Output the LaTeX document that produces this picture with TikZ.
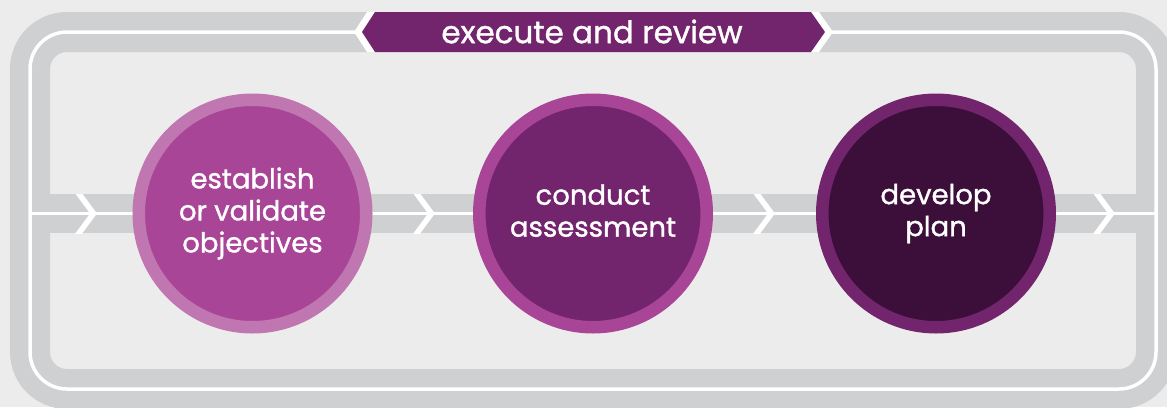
\documentclass[tikz,border=0pt]{standalone}
\usepackage{fontspec}
\setmainfont{Poppins}[FakeBold=1.2]
\definecolor{bgc}{HTML}{ECECEC}
\definecolor{bandc}{HTML}{CFD0D2}
\definecolor{purA}{HTML}{C077B1}
\definecolor{purB}{HTML}{A84596}
\definecolor{purC}{HTML}{72246C}
\definecolor{purD}{HTML}{3C0E3A}
\tikzset{
  stepcircle/.style={circle, inner sep=0pt, outer sep=0pt, minimum size=227.5pt,
     line width=12.5pt, text=white, align=center, font=\fontsize{27.5}{32}\selectfont},
  chev/.style={white, line width=5.5pt, miter limit=10},
}
\begin{document}
\begin{tikzpicture}[x=1pt,y=-1pt]
\useasboundingbox (0,0) rectangle (1167,407);
\clip (0,0) rectangle (1167,407);
\fill[bgc] (0,0) rectangle (1167,407);
% outer loop band
\draw[bandc, line width=40pt, rounded corners=37pt] (30,32) rectangle (1156,389);
% middle band
\draw[bandc, line width=39pt] (30,213.5) -- (1156,213.5);
% white lines
\draw[white, line width=3.5pt, rounded corners=37pt] (30,32) rectangle (1156,389);
\draw[white, line width=3.5pt] (30,213.5) -- (1156,213.5);
% chevrons
\begin{scope}
\clip (0,194) rectangle (1167,233);
\foreach \cx in {79,417,757,1097}{
  \draw[chev] (\cx-4,188.5) -- (\cx+14.5,213.5) -- (\cx-4,238.5);
}
\end{scope}
% banner
\begin{scope}
\clip (0,12) rectangle (1167,52);
\fill[white] (354,32) -- (367,12) -- (819,12) -- (833,32) -- (819,52) -- (367,52) -- cycle;
\end{scope}
\fill[purC] (362,32) -- (375,12) -- (811,12) -- (825,32) -- (811,52) -- (375,52) -- cycle;
\node[text=white, font=\fontsize{31}{34}\selectfont] (banner) at (592,31.5) {execute and review};
% circles
\node[stepcircle, draw=purA, fill=purB] (c1) at (252.5,213.5) {establish\\or validate\\objectives};
\node[stepcircle, draw=purB, fill=purC] (c2) at (593,213.5) {\rule{0pt}{0pt}conduct\\assessment\rule[-6pt]{0pt}{6pt}};
\node[stepcircle, draw=purC, fill=purD] (c3) at (936,213.5) {develop\\plan};
\end{tikzpicture}
\end{document}
